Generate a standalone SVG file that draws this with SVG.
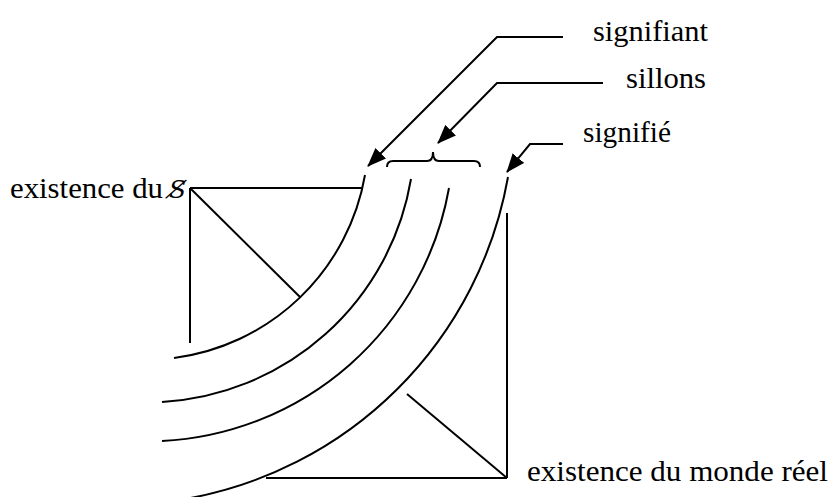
<svg xmlns="http://www.w3.org/2000/svg" width="830" height="497" viewBox="0 0 830 497">
  <style>
    .ln { fill: none; stroke: #000; stroke-width: 2; }
    .lbl { font-family: "Liberation Serif", "DejaVu Serif", serif; font-size: 30px; fill: #000; }
    .sym { font-family: "DejaVu Serif", "Liberation Serif", serif; font-style: italic; font-size: 25px; fill: #000; }
  </style>
  <defs>
    <marker id="ah" markerUnits="userSpaceOnUse" markerWidth="19" markerHeight="15" refX="18" refY="7.5" orient="auto">
      <path d="M0,0 L19,7.5 L0,15 z" fill="#000"/>
    </marker>
  </defs>
  <rect width="830" height="497" fill="#fff"/>

  <g id="existence-sujet">
    <line class="ln" x1="190" y1="188" x2="363" y2="188"/>
    <line class="ln" x1="190" y1="188" x2="190" y2="343"/>
    <line class="ln" x1="190" y1="188" x2="300" y2="297"/>
    <text class="lbl" x="10" y="198" textLength="153" lengthAdjust="spacingAndGlyphs">existence du</text>
    <text class="sym" x="169" y="198">S̸</text>
  </g>

  <g id="existence-monde">
    <line class="ln" x1="507" y1="213" x2="507" y2="478"/>
    <line class="ln" x1="266" y1="478" x2="507" y2="478"/>
    <line class="ln" x1="407" y1="394" x2="507" y2="478"/>
    <text class="lbl" x="527" y="481" textLength="301" lengthAdjust="spacingAndGlyphs">existence du monde réel</text>
  </g>

  <g id="arcs">
    <path id="arc-signifiant" class="ln" d="M365,175 A223,223 0 0 1 174,358"/>
    <path id="arc-sillon-1" class="ln" d="M411,179 A268,268 0 0 1 162,402"/>
    <path id="arc-sillon-2" class="ln" d="M449,188 A307,307 0 0 1 162,441"/>
    <path id="arc-signifie" class="ln" d="M508,177 A397,397 0 0 1 185,499"/>
  </g>

  <g id="brace">
    <path class="ln" d="M387,167 Q387,161 393,161 L427,161 Q433,161 433,152 Q433,161 439,161 L474,161 Q480,161 480,167"/>
  </g>

  <g id="label-signifiant">
    <text class="lbl" x="593" y="41" textLength="115" lengthAdjust="spacingAndGlyphs">signifiant</text>
  </g>
  <g id="label-sillons">
    <text class="lbl" x="626" y="88" textLength="80" lengthAdjust="spacingAndGlyphs">sillons</text>
  </g>
  <g id="label-signifie">
    <text class="lbl" x="583" y="142" textLength="88" lengthAdjust="spacingAndGlyphs">signifié</text>
  </g>

  <g id="connectors">
    <polyline class="ln" points="563,37 497,37 368,166" marker-end="url(#ah)"/>
    <polyline class="ln" points="603,83 497,83 438,143" marker-end="url(#ah)"/>
    <polyline class="ln" points="563,144 530,144 507,172" marker-end="url(#ah)"/>
  </g>
</svg>
